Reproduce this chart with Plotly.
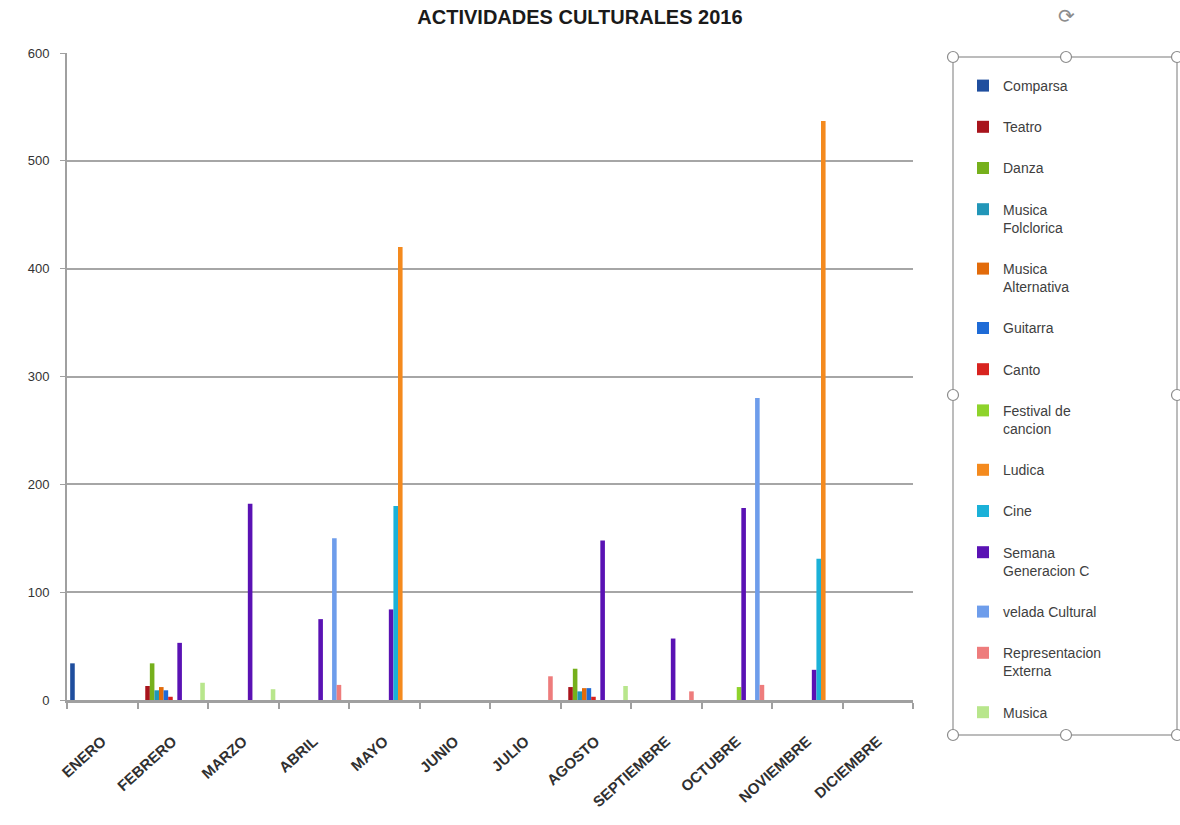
import plotly.graph_objects as go

months = ["ENERO", "FEBRERO", "MARZO", "ABRIL", "MAYO", "JUNIO", "JULIO",
          "AGOSTO", "SEPTIEMBRE", "OCTUBRE", "NOVIEMBRE", "DICIEMBRE"]

comparsa = [34, 0, 0, 0, 0, 0, 0, 0, 0, 0, 0, 0]
teatro = [0, 13, 0, 0, 0, 0, 0, 12, 0, 0, 0, 0]
danza = [0, 34, 0, 0, 0, 0, 0, 29, 0, 0, 0, 0]
musica_folclorica = [0, 9, 0, 0, 0, 0, 0, 8, 0, 0, 0, 0]
musica_alternativa = [0, 12, 0, 0, 0, 0, 0, 11, 0, 0, 0, 0]
guitarra = [0, 9, 0, 0, 0, 0, 0, 11, 0, 0, 0, 0]
canto = [0, 3, 0, 0, 0, 0, 0, 3, 0, 0, 0, 0]
festival_cancion = [0, 0, 0, 0, 0, 0, 0, 0, 0, 12, 0, 0]
semana_generacion = [0, 53, 182, 75, 84, 0, 0, 148, 57, 178, 28, 0]
cine = [0, 0, 0, 0, 180, 0, 0, 0, 0, 0, 131, 0]
ludica = [0, 0, 0, 0, 420, 0, 0, 0, 0, 0, 537, 0]
velada_cultural = [0, 0, 0, 150, 0, 0, 0, 0, 0, 280, 0, 0]
representacion_externa = [0, 0, 0, 14, 0, 0, 22, 0, 8, 14, 0, 0]
musica = [0, 16, 10, 0, 0, 0, 0, 13, 0, 0, 0, 0]

# (legend name, values, colour, legend rank) in bar order
series = [
    ("Comparsa", comparsa, "#1F4E9E", 1),
    ("Teatro", teatro, "#A8141C", 2),
    ("Danza", danza, "#76B01C", 3),
    ("Musica<br>Folclorica", musica_folclorica, "#2296B8", 4),
    ("Musica<br>Alternativa", musica_alternativa, "#E26B0A", 5),
    ("Guitarra", guitarra, "#1E6BD6", 6),
    ("Canto", canto, "#D8231F", 7),
    ("Festival de<br>cancion", festival_cancion, "#8ED32B", 8),
    ("Semana<br>Generacion C", semana_generacion, "#5A12B4", 11),
    ("Cine", cine, "#1BB1D8", 10),
    ("Ludica", ludica, "#F48A1E", 9),
    ("velada Cultural", velada_cultural, "#6E9DEB", 12),
    ("Representacion<br>Externa", representacion_externa, "#EE7C7C", 13),
    ("Musica", musica, "#B8E68C", 14),
]

fig = go.Figure()
for name, vals, color, rank in series:
    fig.add_trace(go.Bar(
        x=months, y=vals, name=name, marker_color=color,
        marker_line_width=0, legendrank=rank, legendgroup=name,
    ))

W, H = 1180, 825
L, R, T, B = 67, 913, 53, 700


def px(x):
    return (x - L) / (R - L)


def py(y):
    return (B - y) / (B - T)


shapes = [dict(type="rect", xref="paper", yref="paper",
               x0=px(953), x1=px(1177), y0=py(735), y1=py(57),
               line=dict(color="#A6A6A6", width=1.5))]
for hx, hy in [(953, 57), (1066, 57), (1177, 57), (953, 395), (1177, 395),
               (953, 735), (1066, 735), (1177, 735)]:
    shapes.append(dict(type="circle", xref="paper", yref="paper",
                       x0=px(hx - 5.5), x1=px(hx + 5.5), y0=py(hy + 5.5), y1=py(hy - 5.5),
                       line=dict(color="#8C8C8C", width=1.2), fillcolor="white"))

fig.update_layout(
    width=W, height=H,
    margin=dict(l=L, r=W - R, t=T, b=H - B),
    paper_bgcolor="white", plot_bgcolor="white",
    barmode="group", bargap=0.09, bargroupgap=0,
    title=dict(text="<b>ACTIVIDADES CULTURALES 2016</b>", x=0.4915, xanchor="center",
               y=0.988, yanchor="top", pad=dict(t=0, b=0),
               font=dict(family="Liberation Sans", size=20, color="#1a1a1a")),
    font=dict(family="Liberation Sans", color="#404040"),
    legend=dict(x=px(963), y=py(70), xanchor="left", yanchor="top",
                traceorder="grouped", tracegroupgap=20, valign="top",
                maxheight=800,
                font=dict(family="Liberation Sans", size=14, color="#404040"),
                itemwidth=30, bgcolor="rgba(0,0,0,0)"),
    shapes=shapes,
    annotations=[dict(text="⟳", xref="paper", yref="paper", x=px(1077), y=py(2),
                      showarrow=False, font=dict(family="DejaVu Sans", size=20, color="#8C8C8C"))],
)

fig.update_xaxes(
    type="category", tickangle=-42, tickson="boundaries",
    ticks="outside", ticklen=6, tickcolor="#A0A0A0", tickwidth=1.5,
    showline=True, linecolor="#A0A0A0", linewidth=2.5,
    showgrid=False, ticklabelstandoff=24,
    tickfont=dict(family="Liberation Sans", size=15, color="#303030", weight="bold"),
)
fig.update_yaxes(
    range=[0, 600], dtick=100, tick0=0,
    ticks="outside", ticklen=5, tickcolor="#A0A0A0",
    showline=True, linecolor="#A0A0A0", linewidth=2,
    showgrid=True, gridcolor="#A6A6A6", gridwidth=2,
    zeroline=False, ticklabelstandoff=8,
    tickfont=dict(family="Liberation Sans", size=13, color="#333333"),
)

fig.write_html("out.html", config={"displayModeBar": False},
               post_script="document.body.style.margin='0';")
